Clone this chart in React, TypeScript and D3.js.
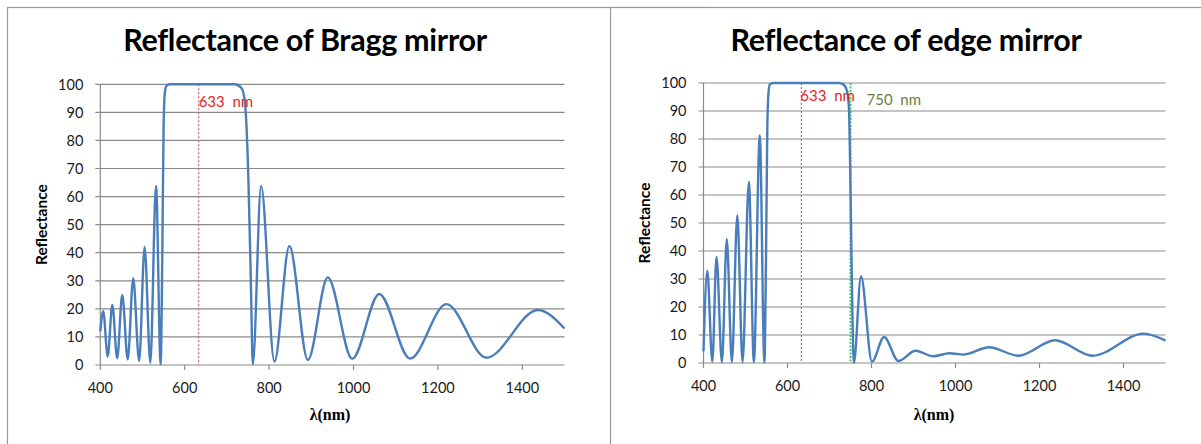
import React from 'react';
import * as d3 from 'd3';

// wavelength (nm) / reflectance (%)
const braggLambda: number[] = [400, 407, 417.5, 428.5, 440, 452, 465, 478, 492, 505, 518.6, 532, 543, 547, 550, 553, 557, 565, 600, 700, 719, 735, 743, 751, 756.7, 761.4, 781, 812.6, 848, 891.8, 939, 997, 1061, 1134, 1220, 1315, 1437, 1500];
const braggR: number[] = [12, 19.2, 3, 21.4, 2.4, 25, 2, 30.9, 1.4, 42.1, 0.8, 63.8, 0.3, 40, 85, 97, 99.5, 100, 100, 100, 100, 98.6, 93, 66, 30, 0.3, 63.8, 1.2, 42.4, 1.8, 31.2, 2.2, 25.3, 2.3, 21.7, 2.6, 19.6, 13];

const edgeLambda: number[] = [400, 409, 421, 431, 443.8, 455.5, 467.5, 480.5, 493, 508, 520, 534, 545, 549, 552, 555, 558, 566, 600, 700, 722, 733, 741, 746, 749, 752, 755, 758, 775, 801, 830, 864, 905, 947, 986, 1019, 1080, 1150, 1237, 1326, 1448, 1500];
const edgeR: number[] = [4.2, 33, 0.5, 37.9, 0.3, 44.2, 0.3, 52.8, 0.3, 64.7, 0.3, 81.3, 0.2, 40, 85, 97, 99.5, 100, 100, 100, 100, 99.5, 97.5, 92, 72, 42, 14, 0, 31, 0.5, 9.3, 0.7, 4.4, 2.4, 3.5, 3.0, 5.6, 2.6, 8.1, 2.6, 10.5, 8];

const xTicks: number[] = [400, 600, 800, 1000, 1200, 1400];
const yTicks: number[] = [0, 10, 20, 30, 40, 50, 60, 70, 80, 90, 100];

interface IMarker {
    lambda: number;
    label: string;
    color: string;
    textColor: string;
    dx: number;
    dy: number;
    dash: string;
    width: number;
}

interface IPanelProps {
    title: string;
    lambda: number[];
    refl: number[];
    markers: IMarker[];
    panelX: number;
    plotX: [number, number];
    plotY: [number, number];
    titleX: number;
    yLabelX: number;
    xLabelX: number;
}

const curveColor = '#4a7ebb';
const gridColor = '#8a8a8a';
const sans = 'Lato, "Open Sans", sans-serif';

function Panel(props: IPanelProps) {
    const x = d3.scaleLinear().domain([400, 1500]).range(props.plotX);
    const y = d3.scaleLinear().domain([0, 100]).range(props.plotY);

    const points: [number, number][] = props.lambda.map((l, i) => [l, props.refl[i]]);
    const line = d3.line<[number, number]>()
        .x(d => x(d[0]))
        .y(d => y(d[1]))
        .curve(d3.curveMonotoneX);

    const left = props.plotX[0];
    const right = props.plotX[1];

    return (
        <g>
            <rect x={props.panelX} y={7.5} width={700} height={500} fill="#fff" stroke="#9a9a9a" strokeWidth={1.2} />
            <text x={props.titleX} y={51} textAnchor="middle" fontFamily={sans} fontWeight="bold" fontSize={30.5} fill="#000" letterSpacing={-0.3}>
                {props.title}
            </text>

            {yTicks.map(t => (
                <g key={'y' + t}>
                    <line x1={left - 5} x2={right} y1={y(t)} y2={y(t)} stroke={gridColor} strokeWidth={1.2} />
                    <text x={left - 17} y={y(t)} dy="0.36em" textAnchor="end" fontFamily={sans} fontSize={14.5} fill="#1a1a1a">{t}</text>
                </g>
            ))}
            <line x1={left} x2={left} y1={y(100)} y2={y(0)} stroke={gridColor} strokeWidth={1.2} />
            {xTicks.map(t => (
                <g key={'x' + t}>
                    <line x1={x(t)} x2={x(t)} y1={y(0)} y2={y(0) + 5} stroke={gridColor} strokeWidth={1.2} />
                    <text x={x(t)} y={y(0) + 28} textAnchor="middle" fontFamily={sans} fontSize={14.5} fill="#1a1a1a">{t}</text>
                </g>
            ))}

            <text transform={`translate(${props.yLabelX},${(y(0) + y(100)) / 2}) rotate(-90)`} dy="0.35em" textAnchor="middle" fontFamily={sans} fontWeight="bold" fontSize={15.5} fill="#000">
                Reflectance
            </text>
            <text x={props.xLabelX} y={420} textAnchor="middle" fontFamily='"Liberation Serif", "DejaVu Serif", serif' fontWeight="bold" fontSize={16} fill="#000">
                λ(nm)
            </text>

            {props.markers.map(m => (
                <line key={'m' + m.lambda} x1={x(m.lambda)} x2={x(m.lambda)} y1={y(100)} y2={y(0)} stroke={m.color} strokeWidth={m.width} strokeDasharray={m.dash} />
            ))}

            <path d={line(points) || ''} fill="none" stroke={curveColor} strokeWidth={2.4} strokeLinejoin="round" />

            {props.markers.map(m => (
                <text key={'t' + m.lambda} x={x(m.lambda) + m.dx} y={y(100) + m.dy} fontFamily={sans} fontSize={15} fill={m.textColor} style={{ whiteSpace: 'pre' }}>
                    {m.label}
                </text>
            ))}
        </g>
    );
}

export default function App() {
    return (
        <svg width={1201} height={444} style={{ position: 'absolute', left: 0, top: 0, background: '#fff' }}>
            <rect width={1201} height={444} fill="#fff" />
            <Panel
                title="Reflectance of Bragg mirror"
                lambda={braggLambda}
                refl={braggR}
                markers={[
                    { lambda: 633, label: '633  nm', color: '#e06666', textColor: '#e3262a', dx: 0, dy: 22.5, dash: '2,2', width: 1.3 },
                ]}
                panelX={7.5}
                plotX={[100.3, 564.5]}
                plotY={[365, 84.3]}
                titleX={305}
                yLabelX={42}
                xLabelX={330}
            />
            <Panel
                title="Reflectance of edge mirror"
                lambda={edgeLambda}
                refl={edgeR}
                markers={[
                    { lambda: 633, label: '633  nm', color: '#e06666', textColor: '#e3262a', dx: -1, dy: 18, dash: '2,2', width: 1.3 },
                    { lambda: 750, label: '750  nm', color: '#3cc86e', textColor: '#6b7d3c', dx: 16, dy: 22, dash: '2,1.5', width: 2 },
                ]}
                panelX={610.5}
                plotX={[703.5, 1165.5]}
                plotY={[363, 83]}
                titleX={906}
                yLabelX={645}
                xLabelX={934}
            />
        </svg>
    );
}
